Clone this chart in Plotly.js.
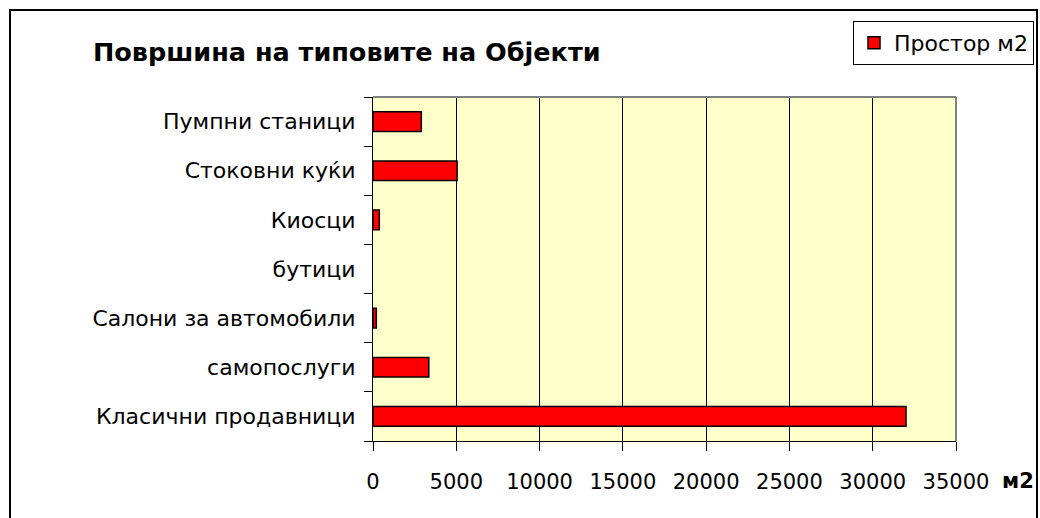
<!DOCTYPE html>
<html>
<head>
<meta charset="utf-8">
<script src="https://cdn.plot.ly/plotly-3.0.1.min.js"></script>
<style>
  html, body { margin: 0; padding: 0; background: #ffffff; }
  #chart { width: 1040px; height: 518px; }
</style>
</head>
<body>
<div id="chart"></div>
<script>
// Data (bottom to top as drawn)
const categories = [
  "Класични продавници",
  "самопослуги",
  "Салони за автомобили",
  "бутици",
  "Киосци",
  "Стоковни куќи",
  "Пумпни станици"
];
const areaValues = [32000, 3350, 200, 0, 380, 5050, 2900];
const seriesName = "Простор м2";
const xTickValues = [0, 5000, 10000, 15000, 20000, 25000, 30000, 35000];
const chartTitle = "Површина на типовите на Објекти";
const unitLabel = "м2";

const W = 1040, H = 518;
const L = 373, R = 956, T = 97, B = 441;
const pw = R - L, ph = B - T;
const px = x => (x - L) / pw;
const py = y => (B - y) / ph;

const FONT = "DejaVu Sans, Liberation Sans, Arial, sans-serif";
const FS = 21;

const trace = {
  type: "bar",
  orientation: "h",
  y: categories,
  x: areaValues,
  name: seriesName,
  marker: {
    color: "#FF0000",
    line: { color: "#000000", width: areaValues.map(v => (v > 0 ? 1.5 : 0)) }
  },
  showlegend: true,
  hoverinfo: "x+y"
};

const layout = {
  width: W, height: H,
  margin: { l: L, r: W - R, t: T, b: H - B, pad: 0, autoexpand: false },
  paper_bgcolor: "#ffffff",
  plot_bgcolor: "#FFFFCC",
  bargap: 0.6,
  font: { family: FONT, size: FS, color: "#000000" },
  title: {
    text: "<b>" + chartTitle + "</b>",
    font: { family: FONT, size: 25.5, color: "#000000" },
    x: 93 / W, xanchor: "left", xref: "container",
    y: 1 - 52 / H, yanchor: "middle", yref: "container"
  },
  xaxis: {
    range: [0, 35000],
    tickvals: xTickValues,
    ticktext: xTickValues.map(String),
    showgrid: true, gridcolor: "#000000", gridwidth: 1,
    zeroline: false,
    showline: true, linecolor: "#000000", linewidth: 1,
    ticks: "outside", ticklen: 9, tickcolor: "#000000", tickwidth: 1,
    ticklabelstandoff: 13,
    tickfont: { family: FONT, size: FS, color: "#000000" },
    automargin: false,
    fixedrange: true
  },
  yaxis: {
    type: "category",
    categoryorder: "array",
    categoryarray: categories,
    range: [-0.5, categories.length - 0.5],
    showgrid: false, zeroline: false,
    showline: true, linecolor: "#000000", linewidth: 1,
    ticks: "outside", ticklen: 8, tickcolor: "#000000", tickwidth: 1,
    tickson: "boundaries",
    ticklabelstandoff: 12,
    tickfont: { family: FONT, size: 22, color: "#000000" },
    automargin: false,
    fixedrange: true
  },
  legend: {
    x: px(853), xanchor: "left",
    y: py(21), yanchor: "top",
    bgcolor: "#ffffff",
    bordercolor: "#000000", borderwidth: 1,
    font: { family: FONT, size: 22, color: "#000000" },
    itemwidth: 30,
    tracegroupgap: 0
  },
  annotations: [{
    text: "<b>" + unitLabel + "</b>",
    xref: "paper", yref: "paper",
    x: px(1000), xanchor: "left",
    y: py(481), yanchor: "middle",
    showarrow: false,
    font: { family: FONT, size: FS, color: "#000000" }
  }],
  shapes: [
    { type: "line", xref: "paper", yref: "paper", x0: 0, x1: 1, y0: 1, y1: 1,
      line: { color: "#808080", width: 2 } },
    { type: "line", xref: "paper", yref: "paper", x0: 1, x1: 1, y0: 0, y1: 1,
      line: { color: "#808080", width: 2 } },
    { type: "rect", xref: "paper", yref: "paper",
      x0: px(10), x1: px(1037), y0: py(10), y1: py(530),
      line: { color: "#000000", width: 2 }, fillcolor: "rgba(0,0,0,0)", layer: "above" }
  ]
};

Plotly.newPlot("chart", [trace], layout, { displayModeBar: false, staticPlot: true });
</script>
</body>
</html>
